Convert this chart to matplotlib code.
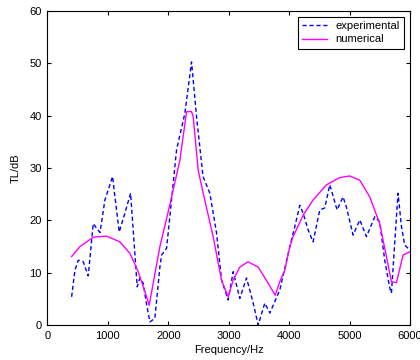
import matplotlib
matplotlib.use("Agg")
import matplotlib.pyplot as plt

# experimental TL (blue dashed)
exp_f = [400, 455, 510, 593, 675, 758, 813, 870, 951, 1078, 1110, 1188, 1282,
         1376, 1486, 1530, 1585, 1640, 1696, 1778, 1861, 1890, 1972, 2026,
         2137, 2275, 2385, 2468, 2575, 2688, 2799, 2882, 2991, 3074, 3184,
         3295, 3400, 3488, 3598, 3681, 3846, 4012, 4094, 4177, 4232, 4315,
         4397, 4508, 4591, 4673, 4720, 4794, 4893, 4950, 5059, 5170, 5280,
         5418, 5500, 5583, 5666, 5694, 5750, 5803, 5860, 5914, 6000]
exp_tl = [5.4, 10.5, 12.4, 12.1, 9.4, 19.4, 18.5, 17.7, 23.9, 28.4, 25.2, 17.8,
          21.4, 25.2, 7.3, 9.0, 8.0, 4.0, 0.6, 1.3, 11.1, 13.4, 14.7, 20.7,
          33.5, 40.5, 50.3, 39.8, 28.4, 25.2, 17.6, 8.6, 4.8, 10.2, 5.1,
          9.0, 4.5, 0.0, 4.2, 2.3, 6.7, 15.0, 18.8, 22.9, 21.4, 18.2,
          15.9, 22.0, 22.4, 26.8, 25.0, 22.0, 24.5, 22.5, 17.2, 20.1, 16.9,
          20.7, 19.7, 12.4, 7.1, 6.1, 16.0, 25.2, 18.8, 15.3, 14.3]

# numerical TL (magenta solid)
num_f = [400, 538, 758, 979, 1199, 1365, 1502, 1613, 1684, 1861, 2026, 2192,
         2303, 2385, 2413, 2495, 2578, 2743, 2881, 2991, 3074, 3185, 3322,
         3487, 3653, 3770, 3846, 3929, 4012, 4066, 4232, 4397, 4618, 4839,
         5004, 5169, 5335, 5500, 5611, 5694, 5777, 5886, 6000]
num_tl = [13.1, 15.0, 16.8, 17.0, 15.9, 13.7, 10.2, 6.4, 3.8, 15.0, 23.0, 31.5,
          40.8, 40.8, 39.8, 29.6, 25.2, 16.9, 8.6, 5.4, 8.6, 11.1, 12.1,
          11.1, 8.0, 5.7, 8.3, 10.5, 15.0, 16.9, 21.0, 23.9, 26.8, 28.2,
          28.5, 27.7, 24.5, 19.4, 13.1, 8.3, 8.1, 13.4, 14.0]

plt.rcParams["font.family"] = ["Liberation Sans", "DejaVu Sans"]

fig = plt.figure(figsize=(4.2, 3.6), dpi=100)
ax = fig.add_axes([0.113, 0.097, 0.863, 0.872])

ax.plot(exp_f, exp_tl, color="#0000ff", lw=1.0, linestyle=(0, (3, 2)),
        label="experimental")
ax.plot(num_f, num_tl, color="#ff00ff", lw=1.0, label="numerical")

ax.set_xlim(0, 6000)
ax.set_ylim(0, 60)
ax.set_xticks(range(0, 6001, 1000))
ax.set_yticks(range(0, 61, 10))
ax.tick_params(direction="in", top=True, right=True, labelsize=8, length=3,
               pad=4)
ax.set_xlabel("Frequency/Hz", fontsize=8, labelpad=3)
ax.set_ylabel("TL/dB", fontsize=8, labelpad=6)

leg = ax.legend(loc="upper right", fontsize=8, fancybox=False, framealpha=1,
                edgecolor="black", handlelength=2.2, borderpad=0.4,
                labelspacing=0.3, borderaxespad=0.5)
leg.get_frame().set_linewidth(0.8)

fig.savefig("out.png", dpi=100)
